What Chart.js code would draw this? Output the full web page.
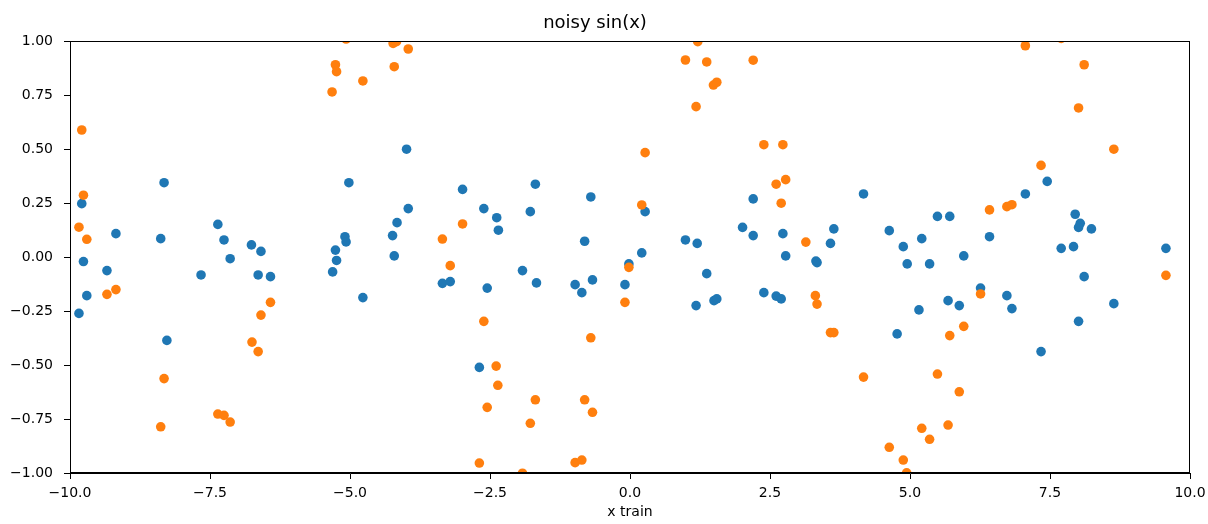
<!DOCTYPE html>
<html>
<head>
<meta charset="utf-8">
<script src="https://cdn.jsdelivr.net/npm/chart.js@4.4.1/dist/chart.umd.min.js"></script>
<style>
  body { margin: 0; background: #fff; }
</style>
</head>
<body>
<canvas id="grafica" width="1208" height="524"></canvas>
<script>
// x train values and the two series
var xBlue = [
  -9.84, -9.79, -9.76, -9.70, -9.34, -9.18, -8.38, -8.32, -8.27, -7.66,
  -7.36, -7.25, -7.14, -6.76, -6.64, -6.59, -6.42, -5.31, -5.26, -5.24,
  -5.09, -5.07, -5.02, -4.77, -4.24, -4.21, -4.16, -3.99, -3.96, -3.35,
  -3.21, -2.99, -2.69, -2.61, -2.55, -2.38, -2.35, -1.92, -1.78, -1.69,
  -1.67, -0.98, -0.86, -0.81, -0.70, -0.67, -0.09, -0.02, 0.21, 0.27,
  0.99, 1.18, 1.20, 1.37, 1.50, 1.55, 2.01, 2.20, 2.20, 2.39,
  2.61, 2.70, 2.73, 2.78, 3.32, 3.34, 3.58, 3.64, 4.17, 4.63,
  4.77, 4.88, 4.95, 5.16, 5.21, 5.35, 5.49, 5.68, 5.71, 5.88,
  5.96, 6.26, 6.42, 6.73, 6.82, 7.06, 7.34, 7.45, 7.70, 7.92,
  7.95, 8.01, 8.04, 8.01, 8.11, 8.24, 8.64, 9.57
];
var yBlue = [
  -0.261, 0.247, -0.021, -0.179, -0.063, 0.108, 0.085, 0.344, -0.386, -0.083,
  0.151, 0.079, -0.008, 0.056, -0.083, 0.026, -0.091, -0.069, 0.032, -0.016,
  0.094, 0.070, 0.344, -0.188, 0.099, 0.005, 0.159, 0.499, 0.224, -0.122,
  -0.114, 0.313, -0.511, 0.224, -0.144, 0.182, 0.124, -0.063, 0.210, 0.337,
  -0.120, -0.128, -0.165, 0.073, 0.278, -0.106, -0.128, -0.032, 0.019, 0.210,
  0.079, -0.225, 0.063, -0.077, -0.202, -0.194, 0.137, 0.269, 0.099, -0.165,
  -0.181, -0.194, 0.108, 0.005, -0.019, -0.026, 0.063, 0.130, 0.292, 0.122,
  -0.356, 0.048, -0.032, -0.245, 0.085, -0.032, 0.188, -0.202, 0.188, -0.225,
  0.005, -0.144, 0.094, -0.179, -0.239, 0.292, -0.438, 0.350, 0.040, 0.048,
  0.198, -0.298, 0.156, 0.137, -0.091, 0.130, -0.216, 0.040
];
var xOrange = [
  -9.84, -9.79, -9.76, -9.70, -9.34, -9.18, -8.38, -8.32, -7.36, -7.25,
  -7.14, -6.75, -6.64, -6.59, -6.42, -5.32, -5.26, -5.24, -5.07, -4.77,
  -4.23, -4.21, -4.17, -3.96, -3.35, -3.21, -2.99, -2.69, -2.61, -2.55,
  -2.39, -2.36, -1.92, -1.78, -1.69, -0.98, -0.86, -0.81, -0.70, -0.67,
  -0.09, -0.02, 0.21, 0.27, 0.99, 1.18, 1.21, 1.37, 1.49, 1.55,
  2.20, 2.39, 2.61, 2.70, 2.73, 2.78, 3.14, 3.31, 3.34, 3.58,
  3.64, 4.17, 4.63, 4.88, 4.94, 5.21, 5.35, 5.49, 5.68, 5.71,
  5.88, 5.96, 6.26, 6.42, 6.73, 6.82, 7.06, 7.34, 7.70, 8.01,
  8.11, 8.64, 9.57
];
var yOrange = [
  0.138, 0.588, 0.286, 0.082, -0.173, -0.151, -0.786, -0.563, -0.727, -0.733,
  -0.764, -0.394, -0.438, -0.269, -0.210, 0.764, 0.890, 0.858, 1.009, 0.815,
  0.989, 0.881, 0.997, 0.963, 0.083, -0.040, 0.153, -0.954, -0.298, -0.696,
  -0.505, -0.594, -1.001, -0.770, -0.661, -0.952, -0.940, -0.661, -0.374, -0.719,
  -0.210, -0.048, 0.241, 0.483, 0.912, 0.696, 0.997, 0.903, 0.796, 0.809,
  0.911, 0.520, 0.337, 0.249, 0.520, 0.358, 0.069, -0.179, -0.218, -0.350,
  -0.350, -0.556, -0.881, -0.940, -0.999, -0.793, -0.844, -0.542, -0.778, -0.364,
  -0.624, -0.321, -0.171, 0.218, 0.233, 0.242, 0.978, 0.424, 1.012, 0.690,
  0.890, 0.499, -0.085
];

// axis ticks
var xTicks = [-10, -7.5, -5, -2.5, 0, 2.5, 5, 7.5, 10];
var yTicks = [-1, -0.75, -0.5, -0.25, 0, 0.25, 0.5, 0.75, 1];

function puntos(xs, ys) {
  return xs.map(function (x, i) { return { x: x, y: ys[i] }; });
}

function menos(texto) {
  return texto.replace('-', '\u2212'); // matplotlib style minus sign
}

var fuente = "'DejaVu Sans', sans-serif";

// box around the plot area (the axes only give left and bottom)
var marco = {
  id: 'marco',
  afterDatasetsDraw: function (chart) {
    var a = chart.chartArea;
    var ctx = chart.ctx;
    ctx.save();
    ctx.strokeStyle = '#000';
    ctx.lineWidth = 1;
    ctx.strokeRect(Math.round(a.left) + 0.5, Math.round(a.top) + 0.5,
      Math.round(a.right - a.left) - 1, Math.round(a.bottom - a.top) - 1);
    ctx.restore();
  }
};

var canvas = document.getElementById('grafica').getContext('2d');

var grafica = new Chart(canvas, {
  type: 'scatter',
  data: {
    datasets: [{
      label: 'y',
      data: puntos(xBlue, yBlue),
      backgroundColor: '#1f77b4',
      borderWidth: 0,
      pointRadius: 4.8,
      order: 1
    }, {
      label: 'noisy',
      data: puntos(xOrange, yOrange),
      backgroundColor: '#ff7f0e',
      borderWidth: 0,
      pointRadius: 4.8,
      order: 0
    }]
  },
  options: {
    responsive: false,
    animation: false,
    layout: {
      padding: { left: 0, right: 18, top: 0, bottom: 0 }
    },
    plugins: {
      legend: { display: false },
      tooltip: { enabled: false },
      title: {
        display: true,
        text: 'noisy sin(x)',
        color: '#000',
        font: { family: fuente, size: 18, weight: 'normal' },
        padding: { top: 13, bottom: 6.4 }
      }
    },
    scales: {
      x: {
        type: 'linear',
        min: -10,
        max: 10,
        afterBuildTicks: function (scale) {
          scale.ticks = xTicks.map(function (v) { return { value: v }; });
        },
        afterFit: function (scale) {
          scale.height = 51;
          scale.paddingLeft = 0;  // let the layout padding decide the edges
          scale.paddingRight = 0;
        },
        grid: { drawOnChartArea: false, drawTicks: true, tickLength: 6, tickColor: '#000' },
        border: { display: true, color: '#000', width: 1 },
        ticks: {
          color: '#000',
          padding: 6,
          maxRotation: 0,
          font: { family: fuente, size: 14 },
          callback: function (v) { return menos(v.toFixed(1)); }
        },
        title: {
          display: true,
          text: 'x train',
          color: '#000',
          font: { family: fuente, size: 14 },
          padding: { top: 0, bottom: 3.6 }
        }
      },
      y: {
        type: 'linear',
        min: -1,
        max: 1,
        afterBuildTicks: function (scale) {
          scale.ticks = yTicks.map(function (v) { return { value: v }; });
        },
        afterFit: function (scale) { scale.width = 70; },
        grid: { drawOnChartArea: false, drawTicks: true, tickLength: 6, tickColor: '#000' },
        border: { display: true, color: '#000', width: 1 },
        ticks: {
          color: '#000',
          padding: 11,
          font: { family: fuente, size: 14 },
          callback: function (v) { return menos(v.toFixed(2)); }
        }
      }
    }
  },
  plugins: [marco]
});
</script>
</body>
</html>
